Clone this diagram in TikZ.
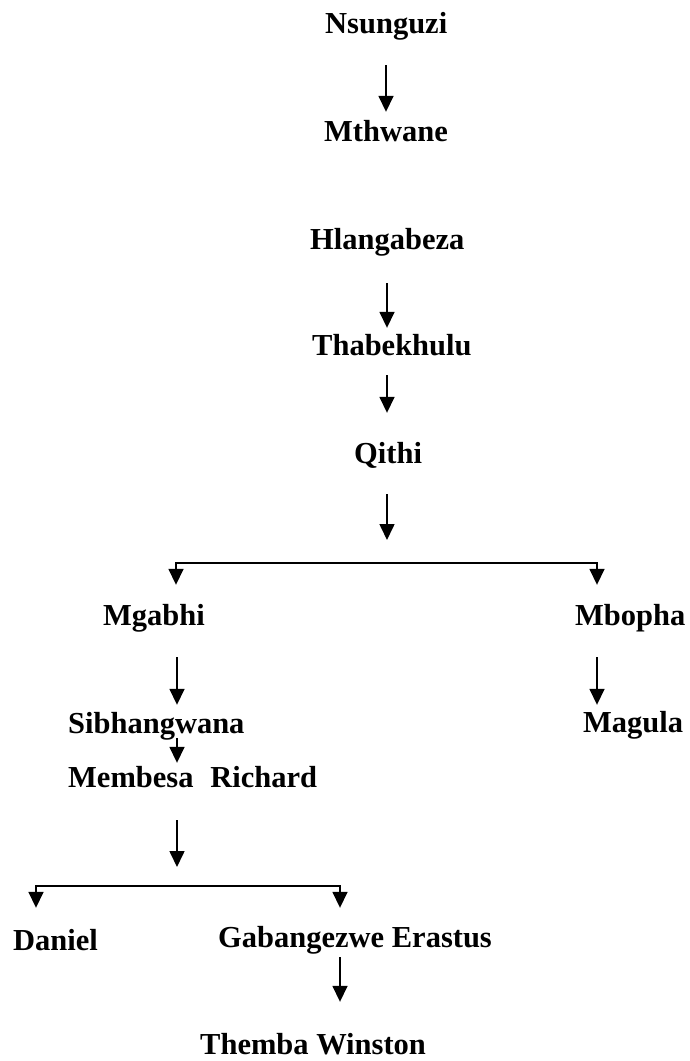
\documentclass[tikz,border=0pt]{standalone}
\usepackage{fontspec}
\setmainfont{Liberation Serif}
\usetikzlibrary{arrows.meta}
\begin{document}
\begin{tikzpicture}[x=1pt,y=-1pt,
  person/.style={anchor=base west,inner sep=0pt,text height=21pt,text depth=7pt,
    font=\fontsize{30.5}{36}\selectfont\bfseries},
  arr/.style={line width=1.6pt,-{Triangle[width=15pt,length=16pt]}},
  fork/.style={line width=1.6pt,line join=miter,
    {Triangle[width=15pt,length=16pt]}-{Triangle[width=15pt,length=16pt]}}]
\useasboundingbox (0,0) rectangle (690,1061);
% names
\node[person] (nsunguzi) at (325,33) {Nsunguzi};
\node[person] (mthwane) at (324,141) {Mthwane};
\node[person] (hlangabeza) at (310,249) {Hlangabeza};
\node[person] (thabekhulu) at (312,355) {Thabekhulu};
\node[person] (qithi) at (354,463) {Qithi};
\node[person] (mgabhi) at (103,625) {Mgabhi};
\node[person] (mbopha) at (575,625) {Mbopha};
\node[person] (magula) at (583,732) {Magula};
\node[person] (sibhangwana) at (68,733) {Sibhangwana};
\node[person] (membesa) at (68,787) {Membesa\hspace{0.3em} Richard};
\node[person] (daniel) at (13,950) {Daniel};
\node[person] (gabangezwe) at (218,947) {Gabangezwe Erastus};
\node[person] (themba) at (200,1054) {Themba Winston};
% branch points
\coordinate (top) at (386,0);
\coordinate (q) at (387,563);
\coordinate (bL) at (176,563);
\coordinate (bR) at (597,563);
\coordinate (m) at (177,886);
\coordinate (cL) at (36,886);
\coordinate (cR) at (340,886);
% connectors
\draw[arr,shorten <=25pt,shorten >=8pt] (nsunguzi.south -| top) -- (mthwane.north -| top);
\draw[arr,shorten <=27pt,shorten >=6pt] (hlangabeza.south -| q) -- (thabekhulu.north -| q);
\draw[arr,shorten <=13pt,shorten >=29pt] (thabekhulu.south -| q) -- (qithi.north -| q);
\draw[arr,shorten <=24pt,shorten >=23pt] (qithi.south -| q) -- (q);
\draw[fork,shorten <=19pt,shorten >=19pt] (bL |- mgabhi.north) -- (bL) -- (bR) -- (bR |- mbopha.north);
\draw[arr,shorten <=25pt,shorten >=7pt] (mgabhi.south -| m) -- (sibhangwana.north -| m);
\draw[arr,shorten <=-2pt,shorten >=3pt] (sibhangwana.south -| m) -- (membesa.north -| m);
\draw[arr,shorten <=26pt,shorten >=19pt] (membesa.south -| m) -- (m);
\draw[fork,shorten <=21pt,shorten >=18pt] (cL |- daniel.north) -- (cL) -- (cR) -- (cR |- gabangezwe.north);
\draw[arr,shorten <=3pt,shorten >=31pt] (gabangezwe.south -| cR) -- (themba.north -| cR);
\draw[arr,shorten <=25pt,shorten >=6pt] (mbopha.south -| bR) -- (magula.north -| bR);
\end{tikzpicture}
\end{document}
